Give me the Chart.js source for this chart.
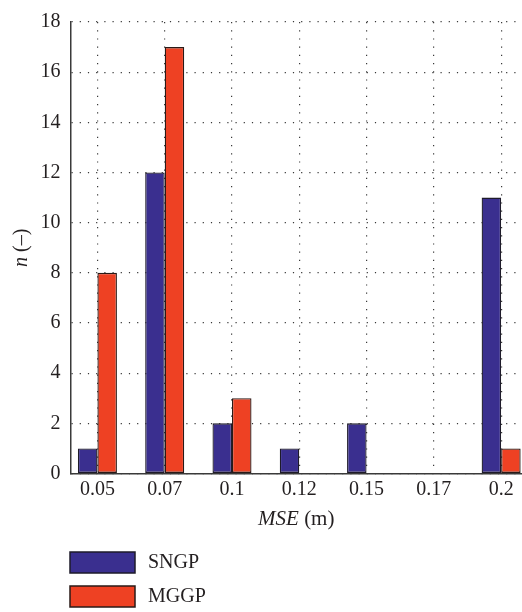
<!DOCTYPE html>
<html>
<head>
  <script src="https://cdn.jsdelivr.net/npm/chart.js@4.4.0/dist/chart.umd.min.js"></script>
  <title>MSE histogram</title>
  <style>
    html, body { margin: 0; padding: 0; background: #fff; }
    #wrap { width: 522px; height: 612px; }
  </style>
</head>
<body>
  <div id="wrap"><canvas id="mseChart"></canvas></div>

  <script>
    // MSE bins and counts per method
    const categories = ["0.05", "0.07", "0.1", "0.12", "0.15", "0.17", "0.2"];
    const sngpCounts = [1, 12, 2, 1, 2, 0, 11];
    const mggpCounts = [8, 17, 3, 0, 0, 0, 1];
    const yTicks = [0, 2, 4, 6, 8, 10, 12, 14, 16, 18];

    const FONT = "'Liberation Serif', 'Times New Roman', serif";
    const INK = "#231f20";

    // bars sit on a linear axis so the plot can start/stop off-centre
    function toPoints(values) {
      return values.map((v, i) => ({ x: i + 1, y: v }));
    }

    // axis titles with italic symbols, plus the stacked legend underneath
    const decorations = {
      id: "decorations",
      afterDraw(chart) {
        const ctx = chart.ctx;
        const area = chart.chartArea;
        ctx.save();
        ctx.fillStyle = INK;
        ctx.textBaseline = "middle";

        // x title: MSE (m)
        ctx.font = "italic 21px " + FONT;
        const a = "MSE";
        const wa = ctx.measureText(a).width;
        ctx.font = "21px " + FONT;
        const b = " (m)";
        const wb = ctx.measureText(b).width;
        let x0 = (area.left + area.right) / 2 - (wa + wb) / 2;
        ctx.font = "italic 21px " + FONT;
        ctx.fillText(a, x0, 519);
        ctx.font = "21px " + FONT;
        ctx.fillText(b, x0 + wa, 519);

        // y title: n (–)
        ctx.translate(22, (area.top + area.bottom) / 2);
        ctx.rotate(-Math.PI / 2);
        ctx.font = "italic 20px " + FONT;
        const c = "n";
        const wc = ctx.measureText(c).width;
        ctx.font = "20px " + FONT;
        const d = " (\u2013)";
        const wd = ctx.measureText(d).width;
        x0 = -(wc + wd) / 2;
        ctx.font = "italic 20px " + FONT;
        ctx.fillText(c, x0, 0);
        ctx.font = "20px " + FONT;
        ctx.fillText(d, x0 + wc, 0);
        ctx.restore();

        // legend
        ctx.save();
        ctx.font = "20px " + FONT;
        ctx.textBaseline = "middle";
        chart.data.datasets.forEach((ds, i) => {
          const top = 552 + i * 34;
          ctx.fillStyle = ds.backgroundColor;
          ctx.fillRect(70, top, 65, 21);
          ctx.strokeStyle = ds.borderColor;
          ctx.lineWidth = 1.5;
          ctx.strokeRect(70, top, 65, 21);
          ctx.fillStyle = INK;
          ctx.fillText(ds.label, 148, top + 11);
        });
        ctx.restore();
      }
    };

    const gridStyle = {
      color: "#3a3a3a",
      lineWidth: 1.2,
      drawTicks: false,
      offset: false,
    };

    const ctx = document.getElementById("mseChart").getContext("2d");
    const chart = new Chart(ctx, {
      type: "bar",
      data: {
        datasets: [
          {
            label: "SNGP",
            data: toPoints(sngpCounts),
            backgroundColor: "#3a2f8f",
            borderColor: "#1e1b2a",
            borderWidth: 1.3,
            borderSkipped: false,
          },
          {
            label: "MGGP",
            data: toPoints(mggpCounts),
            backgroundColor: "#ee4123",
            borderColor: "#2a1a17",
            borderWidth: 1.3,
            borderSkipped: false,
          },
        ],
      },
      options: {
        responsive: true,
        maintainAspectRatio: false,
        animation: false,
        categoryPercentage: 0.58,
        barPercentage: 1.0,
        layout: { padding: { top: 16, left: 0, right: 0, bottom: 0 } },
        plugins: {
          legend: { display: false },
          tooltip: { enabled: false },
        },
        scales: {
          x: {
            type: "linear",
            offset: false,
            min: 0.6,
            max: 7.31,
            afterBuildTicks: (scale) => {
              scale.ticks = categories.map((c, i) => ({ value: i + 1 }));
            },
            afterFit: (scale) => { scale.height = 138.5; },
            ticks: {
              callback: (v) => categories[v - 1],
              color: INK,
              font: { family: FONT, size: 20 },
              padding: 4,
              maxRotation: 0,
              autoSkip: false,
            },
            grid: gridStyle,
            border: { display: true, color: "#3a3a3a", width: 1.5, dash: [1.2, 7] },
          },
          y: {
            min: 0,
            max: 18,
            afterBuildTicks: (scale) => {
              scale.ticks = yTicks.map((v) => ({ value: v }));
            },
            afterFit: (scale) => { scale.width = 70.5; },
            ticks: {
              color: INK,
              font: { family: FONT, size: 20 },
              padding: 10,
            },
            grid: gridStyle,
            border: { display: true, color: "#3a3a3a", width: 1.5, dash: [1.2, 7] },
          },
        },
      },
      plugins: [decorations],
    });
  </script>
</body>
</html>
